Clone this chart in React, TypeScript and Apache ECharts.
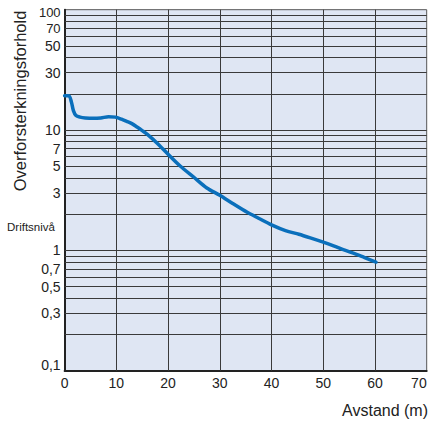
import React, { useEffect, useRef } from "react";
import * as echarts from "echarts";

const distance = [0, 0.8, 1.3, 1.7, 2.2, 3, 4, 5.5, 7, 8.5, 9.8, 11, 12, 13, 14, 15, 16, 18, 20, 22.4, 25, 27.5, 30, 32.5, 35.3, 37.5, 40, 42.7, 45.3, 47.5, 50, 52, 54, 56.3, 58, 60.2];
const ratio = [19.3, 19.3, 17.2, 14.5, 13.2, 12.8, 12.6, 12.5, 12.6, 12.9, 12.8, 12.3, 11.8, 11.3, 10.6, 9.9, 9.2, 7.7, 6.3, 5.0, 4.05, 3.3, 2.87, 2.45, 2.07, 1.85, 1.63, 1.46, 1.36, 1.27, 1.17, 1.09, 1.01, 0.93, 0.87, 0.8];

const yTickLabels = [0.1, 0.3, 0.5, 0.7, 1, 3, 5, 7, 10, 30, 50, 70, 100];
const yGridValues = [0.2, 0.3, 0.4, 0.5, 0.6, 0.7, 0.8, 0.9, 1, 2, 3, 4, 5, 6, 7, 8, 9, 10, 20, 30, 40, 50, 60, 70, 80, 90];
const xGridValues = [10, 20, 30, 40, 50, 60];

const FONT = "'Liberation Sans', Arial, sans-serif";

export default function App() {
  const ref = useRef<HTMLDivElement>(null);
  useEffect(() => {
    if (!ref.current) return;
    const chart = echarts.init(ref.current, null, { renderer: "svg" });
    const gridLine = { color: "#3a3a3a", width: 1, type: "solid" as const };
    const labelBase = { fontSize: 14, fontFamily: FONT, color: "#222" };
    // put the top label first so the crowded 100/70 pair is not treated as max + neighbour
    const labelOrder = [yTickLabels[yTickLabels.length - 1], ...yTickLabels.slice(0, -1)];
    chart.setOption({
      animation: false,
      grid: {
        left: 64.6,
        right: 3.3,
        top: 9.7,
        bottom: 53.3,
        show: true,
        backgroundColor: "#dfe6f3",
        borderColor: "#555",
        borderWidth: 1,
        containLabel: false,
        outerBoundsMode: "none",
      },
      xAxis: {
        type: "value",
        min: 0,
        max: 70,
        interval: 10,
        axisLine: { show: true, lineStyle: { color: "#222", width: 2 } },
        axisTick: { show: false },
        splitLine: { show: false },
        axisLabel: {
          color: "#222",
          fontSize: 14,
          fontFamily: FONT,
          margin: 5,
          alignMaxLabel: "right",
        },
      },
      yAxis: {
        type: "log",
        logBase: 10,
        min: 0.1,
        max: 100,
        axisLine: { show: true, lineStyle: { color: "#222", width: 2 } },
        axisTick: { show: false },
        splitLine: { show: false },
        axisLabel: {
          ...labelBase,
          lineHeight: 12,
          margin: 4,
          showMinLabel: true,
          showMaxLabel: true,
          hideOverlap: false,
          customValues: labelOrder,
          formatter: (v: number) => {
            const s = String(v).replace(".", ",");
            if (Math.abs(v - 0.1) < 1e-9) return `{lo|${s}}`;
            if (Math.abs(v - 100) < 1e-9) return `{hi|${s}}`;
            if (Math.abs(v - 70) < 1e-9) return `{up|${s}}`;
            return s;
          },
          rich: {
            lo: { ...labelBase, lineHeight: 12, padding: [0, 0, 11, 0] },
            hi: { ...labelBase, fontSize: 13, lineHeight: 12, padding: [6, 0, 0, 0] },
            up: { ...labelBase, fontSize: 13, lineHeight: 12 },
          },
        },
      },
      series: [
        {
          type: "line",
          data: [],
          silent: true,
          z: 1,
          markLine: {
            silent: true,
            symbol: "none",
            label: { show: false },
            lineStyle: gridLine,
            data: [
              ...yGridValues.map((v) => ({ yAxis: v })),
              ...xGridValues.map((v) => ({ xAxis: v })),
            ],
          },
        },
        {
          type: "line",
          z: 5,
          data: distance.map((d, i) => [d, ratio[i]]),
          smooth: 0.3,
          showSymbol: false,
          symbol: "none",
          lineStyle: { color: "#0a6fbb", width: 3.5, cap: "round", join: "round" },
        },
      ],
      graphic: [
        {
          type: "text",
          x: 20,
          y: 101,
          rotation: Math.PI / 2,
          style: {
            text: "Overforsterkningsforhold",
            font: `16.5px ${FONT}`,
            fill: "#222",
            align: "center",
            verticalAlign: "middle",
          },
        },
        {
          type: "text",
          x: 7,
          y: 227,
          style: {
            text: "Driftsnivå",
            font: `11.5px ${FONT}`,
            fill: "#222",
            align: "left",
            verticalAlign: "middle",
          },
        },
        {
          type: "text",
          x: 428,
          y: 410,
          style: {
            text: "Avstand (m)",
            font: `16px ${FONT}`,
            fill: "#222",
            align: "right",
            verticalAlign: "middle",
          },
        },
      ],
    });
    return () => chart.dispose();
  }, []);
  return <div ref={ref} style={{ width: 430, height: 424, position: "absolute", left: 0, top: 0 }} />;
}
